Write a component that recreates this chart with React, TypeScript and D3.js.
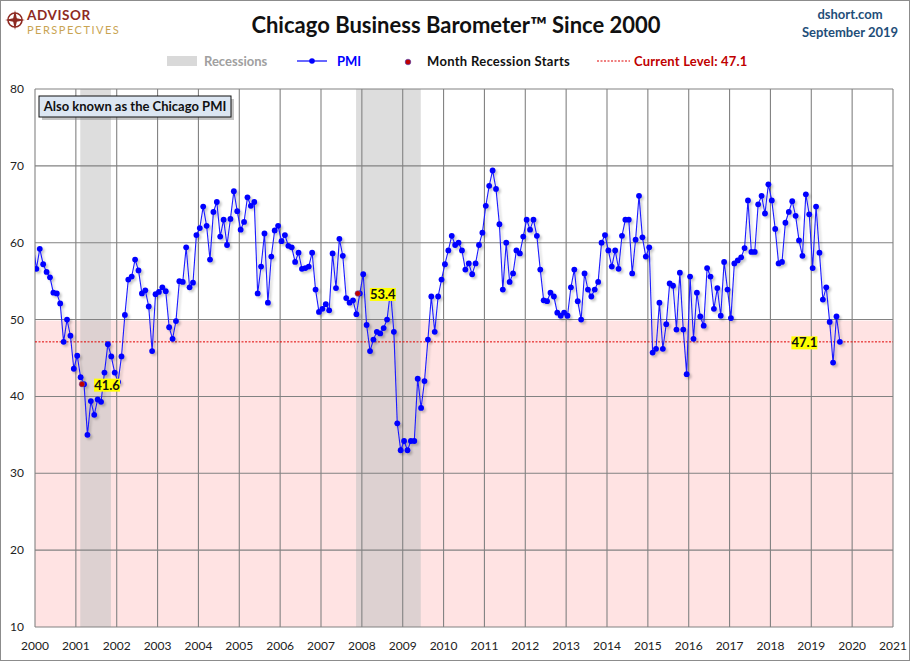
import React from "react";
import * as d3 from "d3";

// Chicago PMI, monthly, Jan 2000 .. Sep 2019
const startYear = 2000;
const pmiValues = [
  56.6, 59.2, 57.2, 56.2, 55.5, 53.5, 53.4, 52.1, 47.1, 50.0, 47.9, 43.6, // 2000
  45.3, 42.5, 41.6, 35.0, 39.4, 37.6, 39.6, 39.3, 43.1, 46.8, 45.2, 43.1, // 2001
  41.9, 45.2, 50.6, 55.2, 55.6, 57.8, 56.4, 53.4, 53.8, 51.7, 45.9, 53.3, // 2002
  53.6, 54.2, 53.7, 49.0, 47.5, 49.8, 55.0, 54.9, 59.4, 54.2, 54.8, 61.0, // 2003
  61.9, 64.7, 62.2, 57.8, 64.0, 65.3, 60.8, 63.0, 59.7, 63.1, 66.7, 64.1, // 2004
  61.7, 62.7, 65.9, 64.8, 65.3, 53.4, 56.9, 61.2, 52.2, 58.2, 61.6, 62.2, // 2005
  60.2, 61.0, 59.6, 59.4, 57.5, 58.7, 56.6, 56.7, 56.9, 58.7, 53.9, 51.0, // 2006
  51.4, 52.0, 51.2, 58.6, 54.1, 60.5, 58.3, 52.8, 52.2, 52.5, 50.7, 53.4, // 2007
  55.9, 49.3, 45.9, 47.4, 48.4, 48.2, 48.9, 50.0, 53.7, 48.4, 36.5, 33.0, // 2008
  34.2, 33.0, 34.2, 34.2, 42.3, 38.5, 42.0, 47.4, 53.0, 48.4, 53.0, 55.2, // 2009
  57.2, 59.0, 60.9, 59.7, 60.0, 59.0, 56.5, 57.3, 55.9, 57.3, 59.7, 61.3, // 2010
  64.8, 67.4, 69.4, 67.0, 62.4, 53.9, 60.0, 54.9, 56.0, 59.0, 58.6, 60.8, // 2011
  63.0, 61.7, 63.0, 60.9, 56.5, 52.5, 52.4, 53.5, 53.0, 50.9, 50.5, 50.9, // 2012
  50.5, 54.2, 56.5, 52.4, 50.0, 56.0, 53.9, 53.0, 53.9, 54.9, 60.0, 61.0, // 2013
  59.0, 56.9, 59.0, 56.6, 60.9, 63.0, 63.0, 56.0, 60.4, 66.1, 60.7, 58.2, // 2014
  59.4, 45.7, 46.2, 52.2, 46.2, 49.4, 54.7, 54.4, 48.7, 56.1, 48.7, 42.9, // 2015
  55.6, 47.5, 53.5, 50.4, 49.2, 56.7, 55.6, 51.4, 54.1, 50.5, 57.5, 53.9, // 2016
  50.2, 57.3, 57.7, 58.1, 59.3, 65.5, 58.8, 58.8, 65.0, 66.1, 63.8, 67.6, // 2017
  65.5, 61.8, 57.3, 57.5, 62.6, 64.0, 65.4, 63.5, 60.3, 58.3, 66.3, 63.7, // 2018
  56.7, 64.7, 58.7, 52.6, 54.2, 49.7, 44.4, 50.4, 47.1, // 2019
];
// Dec 1999, only its segment into Jan 2000 shows at the left edge
const priorValue = 60.0;

const recessions = [
  ["2001-03", "2001-11"],
  ["2007-12", "2009-06"],
];
const labeledMonths = ["2001-03", "2007-12", "2019-09"];
const currentLevel = 47.1;

const yTicks = [10, 20, 30, 40, 50, 60, 70, 80];
const xYears = d3.range(2000, 2022);

const font = "Lato, 'Liberation Sans', sans-serif";

const monthIndex = (s: string) => {
  const [yy, mm] = s.split("-").map(Number);
  return (yy - startYear) * 12 + (mm - 1);
};

type Pt = { k: number; v: number };

export default function App() {
  const width = 910;
  const height = 661;
  const plot = { left: 35, right: 893, top: 89, bottom: 627 };

  const x = d3
    .scaleLinear()
    .domain([0, (xYears[xYears.length - 1] - startYear) * 12])
    .range([plot.left, plot.right]);
  const y = d3.scaleLinear().domain([10, 80]).range([plot.bottom, plot.top]);

  // excel puts the recession columns a little left of the pmi markers
  const pmiX = (k: number) => x(k + 0.4);
  const recX = (k: number) => x(k - 0.2);

  const points: Pt[] = pmiValues.map((v, k) => ({ k, v }));
  const series: Pt[] = [{ k: -1, v: priorValue }, ...points];

  const line = d3
    .line<Pt>()
    .x((d) => pmiX(d.k))
    .y((d) => y(d.v));

  const bands = recessions.map(([s, e]) => ({
    x0: recX(monthIndex(s)) - (x(1) - x(0)) / 2,
    x1: recX(monthIndex(e)) + (x(1) - x(0)) / 2,
  }));

  return (
    <svg
      width={width}
      height={height}
      style={{ position: "absolute", left: 0, top: 0, background: "#fff" }}
      fontFamily={font}
    >
      <defs>
        <clipPath id="plotClip">
          <rect
            x={plot.left}
            y={plot.top}
            width={plot.right - plot.left}
            height={plot.bottom - plot.top}
          />
        </clipPath>
        <filter id="lineShadow" x="-5%" y="-5%" width="110%" height="110%">
          <feDropShadow dx="2" dy="2" stdDeviation="1.2" floodColor="#000" floodOpacity="0.22" />
        </filter>
      </defs>

      <rect x={0.5} y={0.5} width={width - 1} height={height - 1} fill="#fff" stroke="#8c8c8c" />

      {/* logo */}
      <g>
        <circle cx={15} cy={20} r={7} fill="none" stroke="#8e2a22" strokeWidth={1.6} />
        <polygon
          points="15,10 16.8,18.2 25,20 16.8,21.8 15,30 13.2,21.8 5,20 13.2,18.2"
          fill="#8e2a22"
        />
        <text x={27} y={20} fontSize={13.5} fontWeight="bold" fill="#8e2a22" letterSpacing={0.6}>
          ADVISOR
        </text>
        <text x={27} y={34} fontSize={11} fill="#c9a452" letterSpacing={1.5}>
          PERSPECTIVES
        </text>
      </g>

      <text x={456} y={33} textAnchor="middle" fontSize={22} fontWeight="bold" fill="#111">
        Chicago Business Barometer™ Since 2000
      </text>
      <text x={850} y={19} textAnchor="middle" fontSize={13} fontWeight="bold" fill="#1f4e79">
        dshort.com
      </text>
      <text x={850} y={37} textAnchor="middle" fontSize={13} fontWeight="bold" fill="#1f4e79">
        September 2019
      </text>

      {/* legend */}
      <g fontSize={13} fontWeight="bold">
        <rect x={167} y={56} width={30} height={10} fill="#d9d9d9" />
        <text x={204} y={66} fill="#a0a0a0">Recessions</text>
        <line x1={297} x2={327} y1={61} y2={61} stroke="#0000ff" strokeWidth={1.2} />
        <circle cx={312} cy={61} r={2.8} fill="#0000ff" />
        <text x={337} y={66} fill="#0000ff">PMI</text>
        <circle cx={408} cy={62} r={2.8} fill="#c00000" stroke="#4040c0" strokeWidth={0.6} />
        <text x={427} y={66} fill="#111" letterSpacing={0.3}>Month Recession Starts</text>
        <line x1={597} x2={630} y1={61} y2={61} stroke="#e00000" strokeDasharray="2,1.5" />
        <text x={634} y={66} fill="#c00000" letterSpacing={0.2}>Current Level: {currentLevel}</text>
      </g>

      {/* plot background */}
      <rect
        x={plot.left}
        y={y(50) + 1}
        width={plot.right - plot.left}
        height={plot.bottom - y(50) - 1}
        fill="#ffe3e3"
      />
      {bands.map((b, i) => (
        <rect
          key={i}
          x={b.x0}
          y={plot.top}
          width={b.x1 - b.x0}
          height={plot.bottom - plot.top}
          fill="#c4c4c4"
          fillOpacity={0.58}
        />
      ))}

      {/* grid */}
      <g stroke="#828282" strokeWidth={1.1}>
        {yTicks.map((t) => (
          <line key={t} x1={plot.left} x2={plot.right} y1={y(t)} y2={y(t)} />
        ))}
        {xYears.map((yr) => (
          <line
            key={yr}
            x1={x((yr - startYear) * 12)}
            x2={x((yr - startYear) * 12)}
            y1={plot.top}
            y2={plot.bottom}
          />
        ))}
      </g>

      <g fontSize={12} fill="#222">
        {yTicks.map((t) => (
          <text key={t} x={24} y={y(t) + 4} textAnchor="end">
            {t}
          </text>
        ))}
        {xYears.map((yr) => (
          <text key={yr} x={x((yr - startYear) * 12)} y={650} textAnchor="middle">
            {yr}
          </text>
        ))}
      </g>

      {/* current level */}
      <line
        x1={plot.left}
        x2={plot.right}
        y1={y(currentLevel)}
        y2={y(currentLevel)}
        stroke="#e00000"
        strokeWidth={1}
        strokeDasharray="2,1.5"
      />

      {/* annotation box */}
      <rect x={42} y={99} width={192} height={21} fill="#7f7f7f" opacity={0.45} />
      <rect x={39} y={96} width={192} height={21} fill="#dce6f2" stroke="#111" strokeWidth={1} />
      <text x={135} y={111} textAnchor="middle" fontSize={13} fontWeight="bold" fill="#111">
        Also known as the Chicago PMI
      </text>

      {/* pmi series */}
      <g clipPath="url(#plotClip)" filter="url(#lineShadow)">
        <path d={line(series) ?? ""} fill="none" stroke="#1a1aff" strokeWidth={1.1} />
        {points.map((d) => (
          <circle key={d.k} cx={pmiX(d.k)} cy={y(d.v)} r={2.9} fill="#0000ff" />
        ))}
      </g>

      {recessions.map(([s]) => {
        const k = monthIndex(s);
        return (
          <circle
            key={s}
            cx={recX(k)}
            cy={y(pmiValues[k])}
            r={2.8}
            fill="#c00000"
            stroke="#6060c0"
            strokeWidth={0.5}
          />
        );
      })}

      {/* value labels */}
      {labeledMonths.map((m, i) => {
        const k = monthIndex(m);
        const v = pmiValues[k];
        const dx = i === labeledMonths.length - 1 ? -35.5 : 23;
        const cx = pmiX(k) + dx;
        const cy = y(v) + 1;
        return (
          <g key={m}>
            <rect x={cx - 13} y={cy - 6.5} width={26} height={13} fill="#ffff00" />
            <text x={cx} y={cy + 4.5} textAnchor="middle" fontSize={13} fontWeight="bold" fill="#111">
              {v.toFixed(1)}
            </text>
          </g>
        );
      })}
    </svg>
  );
}
